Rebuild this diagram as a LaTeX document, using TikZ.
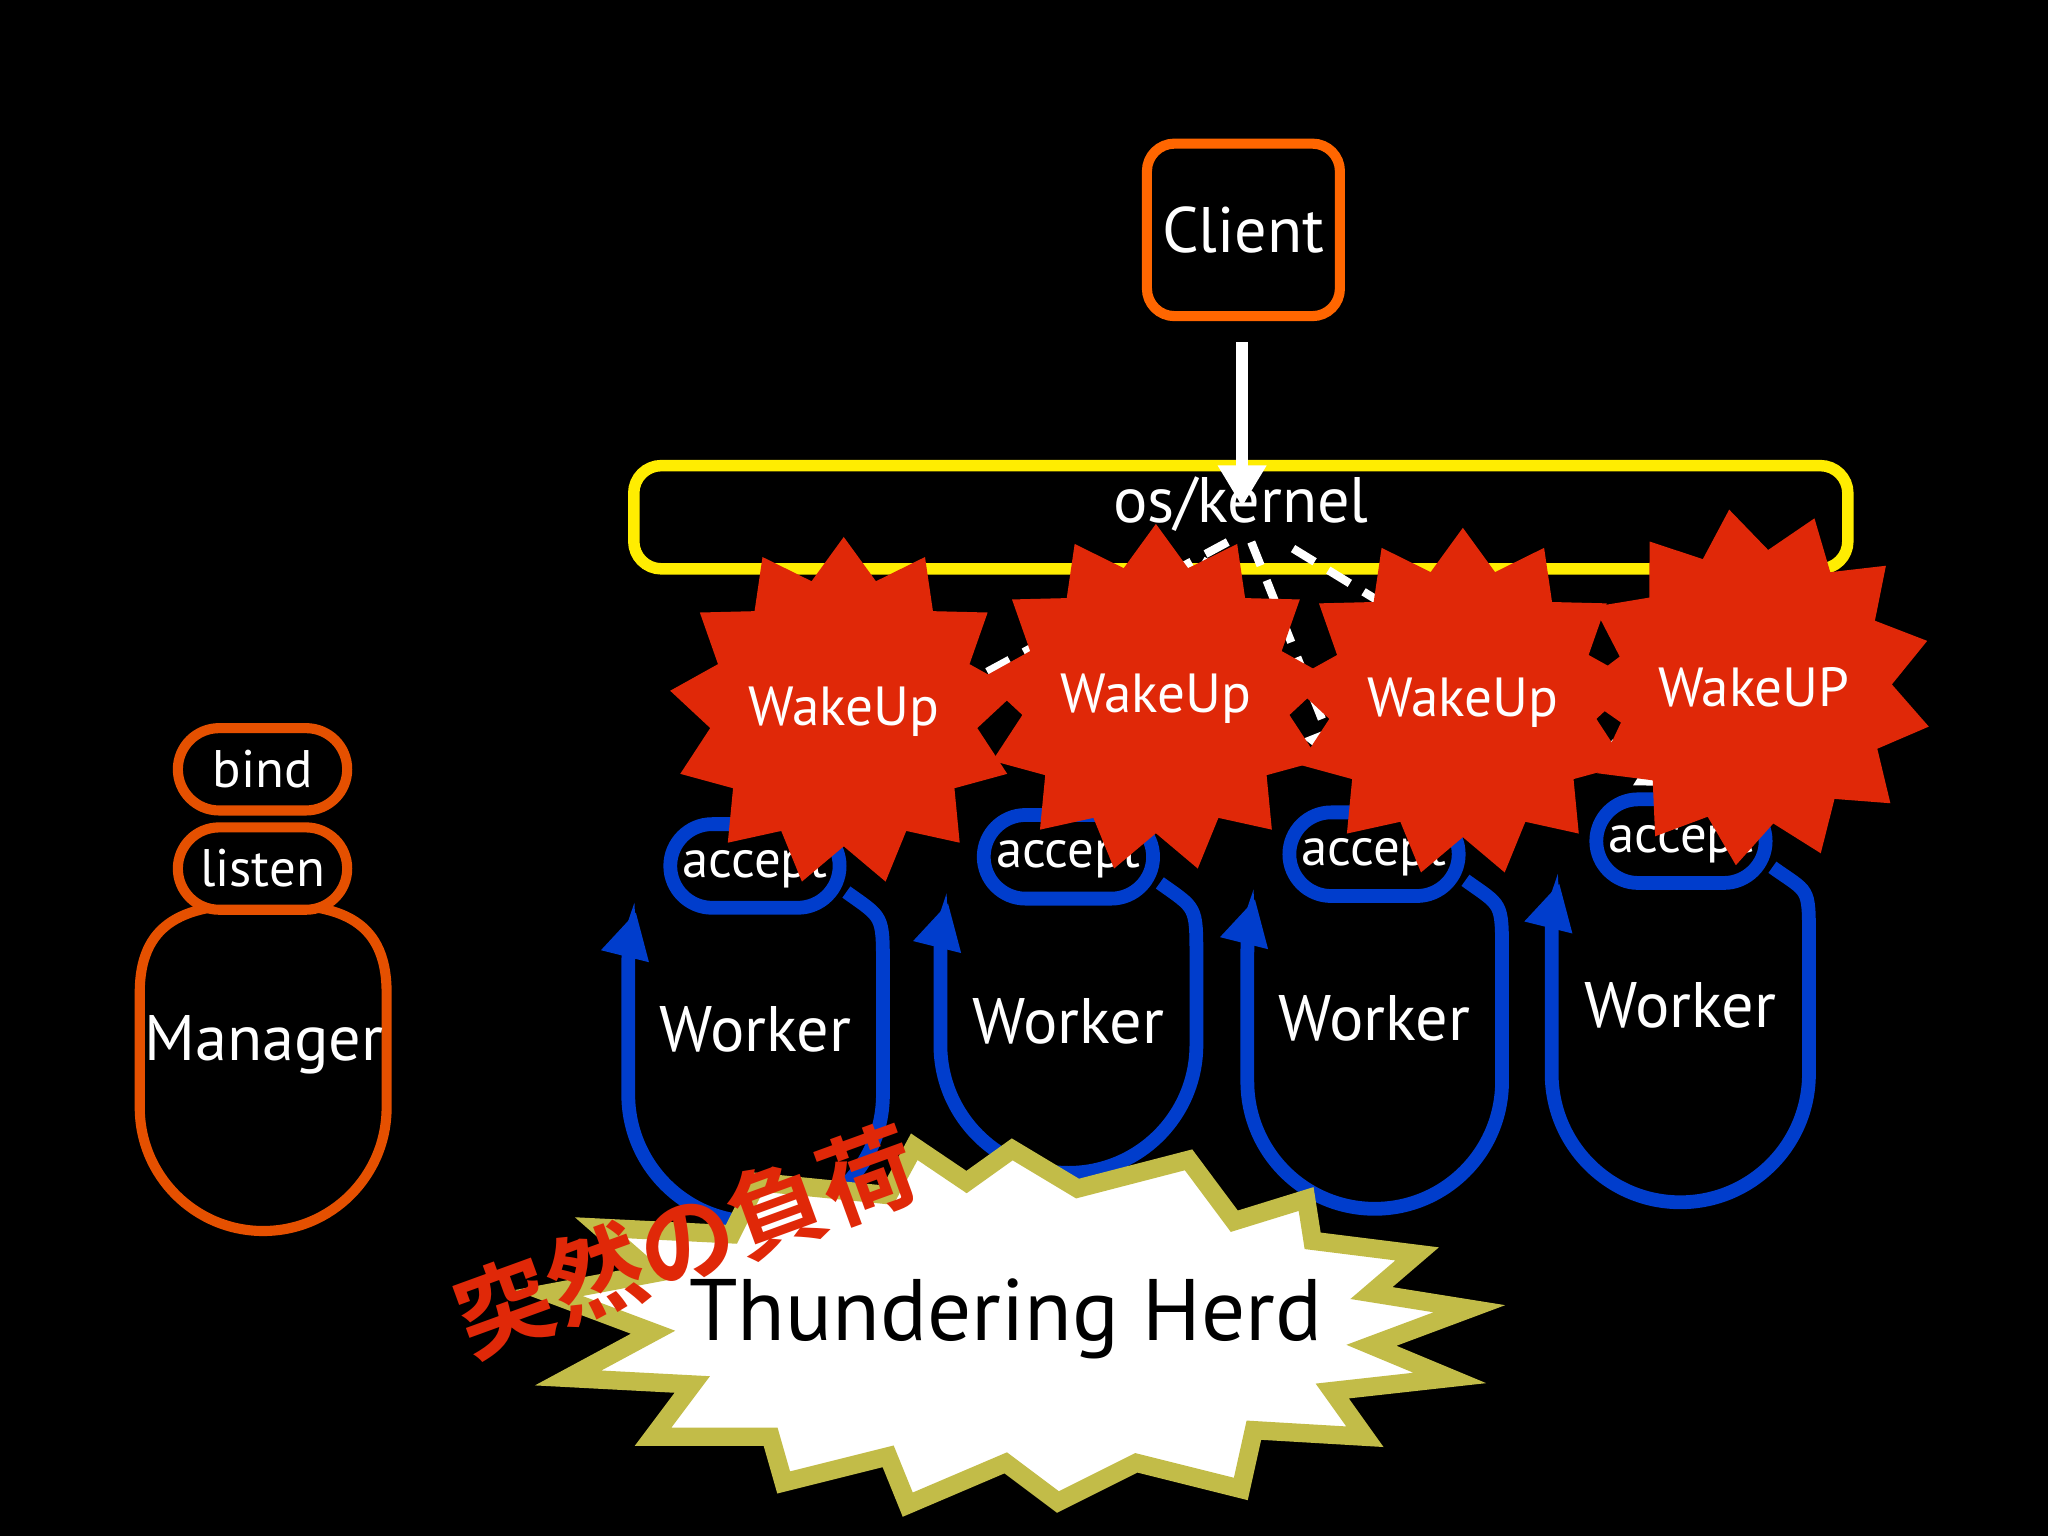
\documentclass[tikz,border=0pt]{standalone}
\usepackage{fontspec}
\setmainfont{PT Sans}
\newfontfamily\cjk{Noto Sans CJK JP Bold}
\usetikzlibrary{shapes.geometric,shapes.misc,arrows.meta}
\definecolor{wred}{HTML}{E02808}
\begin{document}
\begin{tikzpicture}[x=0.01cm,y=-0.01cm,
  orng/.style={draw=orange!80!red, line width=2.2pt, rounded corners=6pt},
  pillO/.style={draw=orange!70!red!90!black, line width=2.2pt, fill=black, rounded rectangle, minimum width=1.53cm, minimum height=0.63cm, text=white, font=\fontsize{11.5}{12}\selectfont},
  pillB/.style={draw=blue!70!cyan!80!black, line width=3pt, fill=black, rounded rectangle, minimum width=1.53cm, minimum height=0.64cm, text=white, font=\fontsize{11.5}{12}\selectfont},
  body/.style={draw=blue!70!cyan!80!black, line width=3pt},
  lbl/.style={text=white, font=\fontsize{14}{15}\selectfont},
  wake/.style={star, star points=13, star point ratio=1.3, minimum size=1.85cm, fill=wred, inner sep=0pt, text=white, font=\fontsize{12}{13}\selectfont},
  wdash/.style={draw=white, line width=1.8pt, dash pattern=on 5.5pt off 3.5pt, -{Triangle[length=9pt,width=10pt]}}]
\useasboundingbox[fill=black] (0,0) rectangle (1568,1176);

% client & kernel
\node[orng, minimum width=1.32cm, minimum height=1.32cm, lbl] (client) at (952,176) {Client};
\node[draw=yellow!95!orange, line width=2.5pt, rounded corners=6pt, minimum width=9.29cm, minimum height=0.79cm, lbl] (kernel) at (950,396) {};
\node[lbl] (ktext) at (950,386) {os/kernel};
\coordinate (cs) at (951,262);
\coordinate (ce) at (951,388);

% dashed wakeups
\coordinate (k1) at (940,415); \coordinate (k2) at (925,428);
\coordinate (k3) at (958,415); \coordinate (k4) at (990,420);
\coordinate (a1) at (575,612); \coordinate (a2) at (820,600);
\coordinate (a3) at (1027,588); \coordinate (a4) at (1287,602);
\draw[wdash] (k1) -- (a1);
\draw[wdash] (k2) -- (a2);
\draw[wdash] (k3) -- (a3);
\draw[wdash] (k4) -- (a4);

% manager
\draw[draw=orange!70!red!90!black, line width=2.2pt] (296,848) arc[start angle=0,end angle=180,radius=94.5] -- (107,760) .. controls (107,700) and (150,692) .. (202,692) .. controls (254,692) and (296,700) .. (296,760) -- cycle;
\node[lbl] (mgr) at (202,800) {Manager};
\node[pillO] (bind) at (201,589) {bind};
\node[pillO] (listen) at (201,665) {listen};

% workers
\foreach \i/\L/\R/\T/\B/\px/\py/\ty in {1/481/676/690/838/578/663/788, 2/720/916/683/800/818/656/782, 3/955/1150/680/828/1052/654/780, 4/1188/1385/668/822/1287/644/770}{
  \pgfmathsetmacro\r{(\R-\L)/2}
  \draw[body, -{Triangle[length=10pt,width=10pt]}] (\px+70,\py+20) .. controls (\R,\py+40) and (\R,\T+10) .. (\R,\T+50) -- (\R,\B) arc[start angle=0,end angle=180,radius=\r] -- (\L,\T+50) .. controls (\L,\T+30) and (\L+3,\T+20) .. (\L+6,\T+8);
  \node[lbl] (w\i) at ({(\L+\R)/2},\ty) {Worker};
  \node[pillB] (p\i) at (\px,\py) {accept};
}

% wakeup stars
\node[wake] (s1) at (646,545) {WakeUp};
\node[wake] (s2) at (885,535) {WakeUp};
\node[wake] (s3) at (1120,538) {WakeUp};
\node[wake, rotate=8] (s4) at (1343,526) {\rotatebox{-8}{WakeUP}};

\draw[white, line width=2.5pt, -{Triangle[length=9pt,width=10pt]}] (cs) -- (ce);

% thundering herd
\filldraw[fill=white, draw=yellow!70!black!90, line width=4pt]
  (775,880) -- (825,910) -- (910,888) -- (945,935) -- (1000,918) -- (1005,950) -- (1085,960) -- (1050,990) -- (1125,1002) -- (1050,1030) -- (1110,1055) -- (1020,1065) -- (1045,1100) -- (960,1095) -- (950,1140) -- (870,1120) -- (810,1150) -- (770,1120) -- (695,1152) -- (680,1115) -- (600,1135) -- (590,1100) -- (500,1100) -- (530,1060) -- (435,1055) -- (500,1020) -- (420,990) -- (500,975) -- (460,940) -- (560,945) -- (580,905) -- (680,915) -- (700,878) -- (740,905) -- cycle;
\node[font=\fontsize{19}{20}\selectfont] (th) at (770,1010) {Thundering Herd};
\node[text=wred, rotate=20, font=\cjk\fontsize{21}{22}\selectfont] (load) at (525,950) {突然の負荷};
\end{tikzpicture}
\end{document}
